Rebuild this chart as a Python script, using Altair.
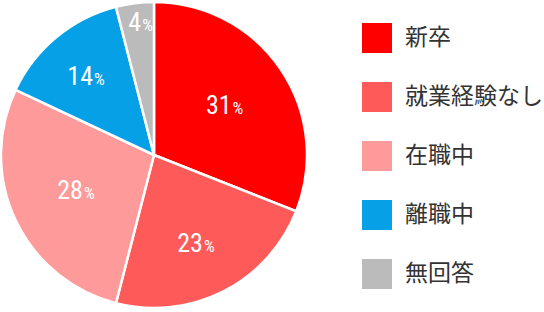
import altair as alt
import pandas as pd

categories = ["新卒", "就業経験なし", "在職中", "離職中", "無回答"]
values = [31, 23, 28, 14, 4]
colors = ["#ff0000", "#ff5a5a", "#ff9a9a", "#06a0e6", "#bbbbbb"]

df = pd.DataFrame({"cat": categories, "v": values, "order": list(range(len(values)))})
total = sum(values)

cx, cy = 154, 155
color = alt.Color(
    "cat:N",
    scale=alt.Scale(domain=categories, range=colors),
    sort=categories,
    legend=alt.Legend(
        title=None,
        orient="none",
        legendX=362,
        legendY=23,
        symbolType="square",
        symbolSize=900,
        symbolStrokeWidth=0,
        labelFont="Noto Sans CJK JP",
        labelFontSize=23,
        labelColor="#333333",
        labelOffset=13,
        rowPadding=29,
        padding=0,
        labelLimit=300,
    ),
)

pie = alt.Chart(df).mark_arc(outerRadius=153, stroke="white", strokeWidth=2.5).encode(
    theta=alt.Theta("v:Q", stack=True),
    order=alt.Order("order:Q"),
    color=color,
    x=alt.value(cx),
    y=alt.value(cy),
)

lab = (
    alt.Chart(df)
    .transform_window(cum="sum(v)", sort=[alt.SortField("order")])
    .transform_calculate(
        mid="datum.cum - datum.v / 2",
        lr="datum.v < 10 ? 134 : (datum.v < 20 ? 102 : (datum.v < 25 ? 99 : (datum.v < 30 ? 83 : 89)))",
        num="datum.v + ''",
    )
    .encode(
        theta=alt.Theta("mid:Q", stack=None, scale=alt.Scale(domain=[0, total], range=[0, 6.283185307])),
        radius=alt.Radius("lr:Q", scale=None),
        x=alt.value(cx),
        y=alt.value(cy),
    )
)

numfont = "'Roboto Condensed', 'Liberation Sans Narrow', 'DejaVu Sans Condensed', Roboto"

nums = lab.mark_text(
    font=numfont, fontSize=26, color="white", align="right", baseline="alphabetic", dx=4, dy=9
).encode(text="num:N")

pct = lab.mark_text(
    font=numfont, fontSize=17, color="white", align="left", baseline="alphabetic", dx=5, dy=9
).encode(text=alt.value("%"))

chart = (
    alt.layer(pie, nums, pct)
    .resolve_scale(theta="independent")
    .properties(width=544, height=312, autosize=alt.AutoSizeParams(type="none"), padding=0)
    .configure_view(stroke=None)
)

chart.save("out.html", embed_options={"renderer": "svg", "actions": False})
